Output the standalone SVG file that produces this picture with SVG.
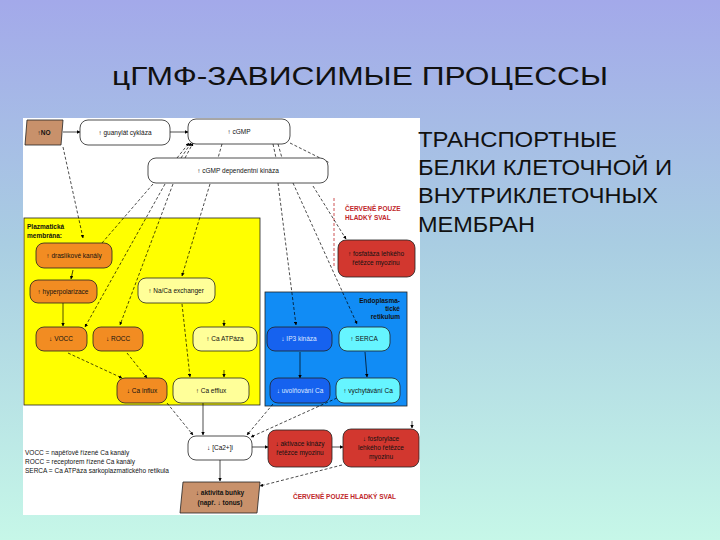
<svg xmlns="http://www.w3.org/2000/svg" width="720" height="540" viewBox="0 0 720 540">
<defs>
<linearGradient id="bg" x1="0" y1="0" x2="0" y2="1">
<stop offset="0" stop-color="#a3a9ea"/>
<stop offset="0.45" stop-color="#a9cde2"/>
<stop offset="1" stop-color="#c6f7e8"/>
</linearGradient>
<marker id="ah" viewBox="0 0 10 10" refX="9" refY="5" markerWidth="5" markerHeight="5" orient="auto">
<path d="M0,0 L10,5 L0,10 z" fill="#000"/>
</marker>
<style>
.t{font-family:"Liberation Sans",Arial,sans-serif;fill:#111;font-size:6.5px;text-anchor:middle}
.b{font-weight:bold}
.lt{fill:#dfe8ff}
.rt{font-family:"Liberation Sans",Arial,sans-serif;fill:#111;font-size:22px}
.box{stroke:#222;stroke-width:0.8}
.w{fill:#fff}
.o{fill:#f28c22}
.py{fill:#ffff99}
.r{fill:#d2372f}
.db{fill:#1662ef}
.cy{fill:#66f5ff}
.br{fill:#c8916b}
.c line,.c path{stroke:#000;stroke-width:0.7;fill:none}
.d{stroke-dasharray:3,2}
.redtxt{font-family:"Liberation Sans",Arial,sans-serif;fill:#c0262a;font-size:6.5px;font-weight:bold}
</style>
</defs>
<rect x="0" y="0" width="720" height="540" fill="url(#bg)"/>
<text x="112" y="85" font-family="'Liberation Sans',Arial,sans-serif" font-size="25" fill="#111" textLength="496" lengthAdjust="spacingAndGlyphs">цГМФ-ЗАВИСИМЫЕ ПРОЦЕССЫ</text>

<rect x="23" y="118" width="397" height="397" fill="#fff"/>
<text class="rt" x="418" y="147" textLength="199" lengthAdjust="spacingAndGlyphs">ТРАНСПОРТНЫЕ</text>
<text class="rt" x="418" y="175" textLength="254" lengthAdjust="spacingAndGlyphs">БЕЛКИ КЛЕТОЧНОЙ И</text>
<text class="rt" x="418" y="203" textLength="240" lengthAdjust="spacingAndGlyphs">ВНУТРИКЛЕТОЧНЫХ</text>
<text class="rt" x="418" y="232" textLength="117" lengthAdjust="spacingAndGlyphs">МЕМБРАН</text>
<rect x="24" y="218" width="236" height="187" fill="#ffff00" stroke="#222" stroke-width="0.8"/>
<rect x="265" y="292" width="142" height="114" fill="#118cf5" stroke="#222" stroke-width="0.8"/>
<text class="t b" x="27" y="229" style="text-anchor:start">Plazmatická</text>
<text class="t b" x="27" y="238" style="text-anchor:start">membrána:</text>
<text class="t b" x="400" y="303" style="text-anchor:end">Endoplasma-</text>
<text class="t b" x="400" y="311" style="text-anchor:end">tické</text>
<text class="t b" x="400" y="319" style="text-anchor:end">retikulum</text>
<text class="redtxt" x="345" y="211">ČERVENĚ POUZE</text>
<text class="redtxt" x="345" y="220">HLADKÝ SVAL</text>
<text class="redtxt" x="293" y="499">ČERVENĚ POUZE HLADKÝ SVAL</text>
<line x1="334" y1="198" x2="334" y2="268" stroke="#c0262a" stroke-width="0.8" stroke-dasharray="3,2"/>
<text class="t" x="25" y="455" style="text-anchor:start">VOCC = napěťově řízené Ca kanály</text>
<text class="t" x="25" y="464" style="text-anchor:start">ROCC = receptorem řízené Ca kanály</text>
<text class="t" x="25" y="473" style="text-anchor:start">SERCA = Ca ATPáza sarkoplazmatického retikula</text>

<g class="c">
<line x1="63" y1="132" x2="80" y2="132" marker-end="url(#ah)"/>
<line x1="170" y1="132" x2="188" y2="132" marker-end="url(#ah)"/>
<line class="d" x1="63" y1="147" x2="83" y2="238" marker-end="url(#ah)"/>
<line class="d" x1="177" y1="158" x2="189" y2="143" marker-end="url(#ah)"/>
<line class="d" x1="181" y1="158" x2="191" y2="143" marker-end="url(#ah)"/>
<line class="d" x1="185" y1="158" x2="193" y2="143" marker-end="url(#ah)"/>
<line class="d" x1="222" y1="144" x2="218" y2="158"/>
<line class="d" x1="273" y1="144" x2="276" y2="158"/>
<line class="d" x1="278" y1="144" x2="282" y2="158"/>
<line class="d" x1="290" y1="143" x2="330" y2="163"/>
<line class="d" x1="313" y1="186" x2="346" y2="239" marker-end="url(#ah)"/>
<line class="d" x1="278" y1="183" x2="296" y2="325" marker-end="url(#ah)"/>
<line class="d" x1="293" y1="183" x2="357" y2="324" marker-end="url(#ah)"/>
<line class="d" x1="153" y1="184" x2="102" y2="243"/>
<line class="d" x1="165" y1="184" x2="85" y2="327" marker-end="url(#ah)"/>
<line class="d" x1="173" y1="184" x2="120" y2="325" marker-end="url(#ah)"/>
<line class="d" x1="210" y1="184" x2="182" y2="276" marker-end="url(#ah)"/>
<line x1="73" y1="270" x2="71" y2="279" marker-end="url(#ah)"/>
<line x1="63" y1="303" x2="63" y2="326" marker-end="url(#ah)"/>
<line class="d" x1="182" y1="304" x2="190" y2="377" marker-end="url(#ah)"/>
<line x1="224" y1="320" x2="224" y2="326" marker-end="url(#ah)"/>
<line x1="224" y1="370" x2="224" y2="377" marker-end="url(#ah)"/>
<line class="d" x1="68" y1="353" x2="122" y2="378" marker-end="url(#ah)"/>
<line class="d" x1="127" y1="353" x2="147" y2="378" marker-end="url(#ah)"/>
<line class="d" x1="167" y1="403" x2="193" y2="435" marker-end="url(#ah)"/>
<line x1="203" y1="403" x2="203" y2="435" marker-end="url(#ah)"/>
<line class="d" x1="273" y1="404" x2="247" y2="435" marker-end="url(#ah)"/>
<line class="d" x1="337" y1="398" x2="251" y2="437" marker-end="url(#ah)"/>
<line x1="300" y1="352" x2="300" y2="378" marker-end="url(#ah)"/>
<line x1="365" y1="352" x2="367" y2="377" marker-end="url(#ah)"/>
<line x1="252" y1="447" x2="268" y2="447" marker-end="url(#ah)"/>
<line x1="332" y1="447" x2="343" y2="447" marker-end="url(#ah)"/>
<line x1="412" y1="421" x2="412" y2="428" marker-end="url(#ah)"/>
<line class="d" x1="342" y1="465" x2="260" y2="486" marker-end="url(#ah)"/>
<line x1="220" y1="460" x2="220" y2="481" marker-end="url(#ah)"/>
</g>

<g id="no"><path class="box br" d="M27,120 H63 L61,145 H25 Z"/><text class="t b" x="44" y="135">↑NO</text></g>
<g id="gc"><rect class="box w" x="80" y="120" width="90" height="25" rx="8"/><text class="t" x="125" y="135">↑ guanylát cykláza</text></g>
<g id="cgmp"><rect class="box w" x="188" y="119" width="102" height="25" rx="8"/><text class="t" x="239" y="134">↑ cGMP</text></g>
<g id="pkg"><rect class="box w" x="148" y="158" width="180" height="25" rx="8"/><text class="t" x="238" y="173">↑ cGMP dependentní kináza</text></g>
<g id="k"><rect class="box o" x="36" y="243" width="76" height="25" rx="8"/><text class="t" x="74" y="258">↑ draslíkové kanály</text></g>
<g id="hyp"><rect class="box o" x="30" y="280" width="67" height="23" rx="8"/><text class="t" x="63" y="294">↑ hyperpolarizace</text></g>
<g id="naca"><rect class="box py" x="138" y="278" width="77" height="25" rx="8"/><text class="t" x="176" y="293">↑ Na/Ca exchanger</text></g>
<g id="vocc"><rect class="box o" x="36" y="327" width="51" height="24" rx="8"/><text class="t" x="61" y="341">↓ VOCC</text></g>
<g id="rocc"><rect class="box o" x="93" y="327" width="50" height="24" rx="8"/><text class="t" x="118" y="341">↓ ROCC</text></g>
<g id="caatp"><rect class="box py" x="193" y="327" width="64" height="24" rx="8"/><text class="t" x="225" y="341">↑ Ca ATPáza</text></g>
<g id="influx"><rect class="box o" x="117" y="378" width="50" height="25" rx="8"/><text class="t" x="142" y="393">↓ Ca influx</text></g>
<g id="efflux"><rect class="box py" x="173" y="378" width="76" height="25" rx="8"/><text class="t" x="211" y="393">↑ Ca efflux</text></g>
<g id="mlcp"><rect class="box r" x="338" y="240" width="77" height="37" rx="8"/><text class="t" x="376" y="256">↑ fosfatáza lehkého</text><text class="t" x="376" y="265">řetězce myozinu</text></g>
<g id="ip3"><rect class="box db" x="267" y="327" width="65" height="24" rx="8"/><text class="t lt" x="299" y="341">↓ IP3 kináza</text></g>
<g id="serca"><rect class="box cy" x="339" y="327" width="51" height="24" rx="8"/><text class="t" x="364" y="341">↑ SERCA</text></g>
<g id="release"><rect class="box db" x="270" y="378" width="60" height="25" rx="8"/><text class="t lt" x="300" y="393">↓ uvolňování Ca</text></g>
<g id="uptake"><rect class="box cy" x="336" y="378" width="64" height="25" rx="8"/><text class="t" x="368" y="393">↑ vychytávání Ca</text></g>
<g id="cai"><rect class="box w" x="188" y="436" width="64" height="24" rx="8"/><text class="t" x="220" y="450">↓ [Ca2+]i</text></g>
<g id="mlck"><rect class="box r" x="268" y="430" width="64" height="37" rx="8"/><text class="t" x="300" y="446">↓ aktivace kinázy</text><text class="t" x="300" y="455">řetězce myozinu</text></g>
<g id="mlcph"><rect class="box r" x="343" y="429" width="76" height="38" rx="8"/><text class="t" x="381" y="441">↓ fosforylace</text><text class="t" x="381" y="450">lehkého řetězce</text><text class="t" x="381" y="459">myozinu</text></g>
<g id="act"><path class="box br" d="M183,482 H260 L257,513 H180 Z"/><text class="t b" x="220" y="495">↓ aktivita buňky</text><text class="t b" x="220" y="505">(např. ↓ tonus)</text></g>
</svg>
